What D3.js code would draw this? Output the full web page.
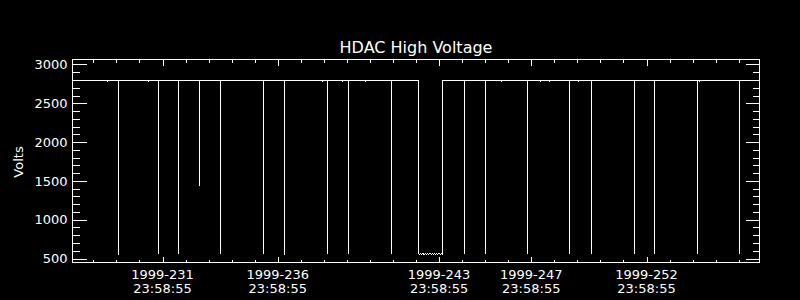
<!DOCTYPE html>
<html>
<head>
<meta charset="utf-8">
<script src="https://cdn.jsdelivr.net/npm/d3@7"></script>
<style>
  body { margin: 0; background: #000; }
  svg { display: block; background: #000; }
  text { fill: #fff; font-family: "DejaVu Sans", sans-serif; }
</style>
</head>
<body>
<svg id="chart" width="800" height="300"></svg>
<script>
// time is day-of-year 1999 (fractional), voltage in volts
const days = [
  228.094, 229.5998, 229.6000, 229.6002, 230.0898, 230.0900, 230.0902,
  231.3788, 231.3790, 231.3792, 231.8038, 231.8040, 231.8042,
  232.7068, 232.7070, 232.7072, 233.6128, 233.6130, 233.6132,
  234.5288, 234.5290, 234.5292, 236.3938, 236.3940, 236.3942,
  237.3058, 237.3060, 237.3062, 238.9538, 238.9540, 238.9542,
  239.1368, 239.1370, 239.1372, 239.8218, 239.8220, 239.8222,
  240.0818, 240.0820, 240.0822, 240.8198, 240.8200, 240.8202,
  241.9218, 241.9220, 241.9222,
  243.1068, 243.1070, 243.15, 243.20, 243.25, 243.30, 243.35, 243.40, 243.45, 243.50,
  243.55, 243.60, 243.65, 243.70, 243.75, 243.80, 243.85, 243.90, 243.95, 244.00,
  244.05, 244.10, 244.1608, 244.1610,
  245.0808, 245.0810, 245.0812, 246.0258, 246.0260, 246.0262,
  246.7208, 246.7210, 246.7212, 247.8488, 247.8490, 247.8492,
  248.4128, 248.4130, 248.4132, 248.8028, 248.8030, 248.8032,
  249.6708, 249.6710, 249.6712, 250.0618, 250.0620, 250.0622,
  250.6258, 250.6260, 250.6262, 252.4568, 252.4570, 252.4572,
  253.3588, 253.3590, 253.3592, 255.2248, 255.2250, 255.2252,
  255.3108, 255.3110, 255.3112, 257.0468, 257.0470, 257.0472,
  257.902
];
const volts = [
  2795, 2795, 2770, 2795, 2795, 550, 2795,
  2795, 2770, 2795, 2795, 555, 2795,
  2795, 555, 2795, 2795, 1430, 2795,
  2795, 555, 2795, 2795, 555, 2795,
  2795, 545, 2795, 2795, 2770, 2795,
  2795, 555, 2795, 2795, 2770, 2795,
  2795, 555, 2795, 2795, 2770, 2795,
  2795, 555, 2795,
  2795, 560, 552, 566, 553, 565, 552, 566, 554, 565,
  552, 566, 553, 565, 552, 566, 553, 565, 552, 566,
  553, 565, 558, 2795,
  2795, 555, 2795, 2795, 555, 2795,
  2795, 2770, 2795, 2795, 555, 2795,
  2795, 2770, 2795, 2795, 2770, 2795,
  2795, 555, 2795, 2795, 2770, 2795,
  2795, 555, 2795, 2795, 555, 2795,
  2795, 555, 2795, 2795, 555, 2795,
  2795, 2770, 2795, 2795, 555, 2795,
  2795
];

const tickDays = [231.99925, 236.99925, 243.99925, 247.99925, 252.99925];
const tickDates = ['1999-231', '1999-236', '1999-243', '1999-247', '1999-252'];
const tickTimes = ['23:58:55', '23:58:55', '23:58:55', '23:58:55', '23:58:55'];
const voltTicks = [500, 1000, 1500, 2000, 2500, 3000];

const svg = d3.select('#chart');

let xScale = d3.scaleLinear().domain([228.094, 257.902]).range([72.5, 759.5]);
let yScale = d3.scaleLinear().domain([448.5, 3064.4]).range([262.5, 59.5]);

let minorDays = d3.range(228, 257).map(d => d + 0.99925).filter(d => d >= 228.094 && d <= 257.902);
let minorVolts = d3.range(500, 3001, 100);

function strip (g) {
  g.select('.domain').remove();
  g.selectAll('line').style('stroke', '#fff').style('shape-rendering', 'crispEdges');
  g.selectAll('text').style('fill', '#fff').style('font-family', '"DejaVu Sans", sans-serif').style('font-size', '13px');
}

// left axis, ticks pointing inward
svg.append('g').attr('transform', 'translate(72.5,0)')
  .call(d3.axisLeft(yScale).tickValues(minorVolts).tickSizeInner(-7).tickSizeOuter(0).tickFormat(''))
  .call(strip);
svg.append('g').attr('transform', 'translate(72.5,0)')
  .call(d3.axisLeft(yScale).tickValues(voltTicks).tickSizeInner(-14).tickSizeOuter(0).tickPadding(5).tickFormat(d3.format('d')))
  .call(strip);

// right axis
svg.append('g').attr('transform', 'translate(759.5,0)')
  .call(d3.axisRight(yScale).tickValues(minorVolts).tickSizeInner(-7).tickSizeOuter(0).tickFormat(''))
  .call(strip);
svg.append('g').attr('transform', 'translate(759.5,0)')
  .call(d3.axisRight(yScale).tickValues(voltTicks).tickSizeInner(-14).tickSizeOuter(0).tickFormat(''))
  .call(strip);

// bottom axis
svg.append('g').attr('transform', 'translate(0,262.5)')
  .call(d3.axisBottom(xScale).tickValues(minorDays).tickSizeInner(-3).tickSizeOuter(0).tickFormat(''))
  .call(strip);
svg.append('g').attr('transform', 'translate(0,262.5)')
  .call(d3.axisBottom(xScale).tickValues(tickDays).tickSizeInner(-6).tickSizeOuter(0).tickFormat(''))
  .call(strip);

// top axis
svg.append('g').attr('transform', 'translate(0,59.5)')
  .call(d3.axisTop(xScale).tickValues(minorDays).tickSizeInner(-3).tickSizeOuter(0).tickFormat(''))
  .call(strip);
svg.append('g').attr('transform', 'translate(0,59.5)')
  .call(d3.axisTop(xScale).tickValues(tickDays).tickSizeInner(-6).tickSizeOuter(0).tickFormat(''))
  .call(strip);

// two-line date labels under the major ticks
let labels = svg.append('g').selectAll('text.xlab')
  .data(tickDays).enter().append('text')
  .attr('class', 'xlab')
  .attr('text-anchor', 'middle')
  .style('font-size', '13px');
labels.append('tspan').attr('x', d => xScale(d)).attr('y', 278.5).text((d, i) => tickDates[i]);
labels.append('tspan').attr('x', d => xScale(d)).attr('y', 292.8).text((d, i) => tickTimes[i]);

// frame
svg.append('rect')
  .attr('x', 72.5).attr('y', 59.5)
  .attr('width', 759.5 - 72.5).attr('height', 262.5 - 59.5)
  .style('fill', 'none').style('stroke', '#fff').style('shape-rendering', 'crispEdges');

// data line, snapped to pixel columns so the drops stay straight
let line = d3.line()
  .x((d, i) => Math.floor(xScale(days[i])) + 0.5)
  .y((d, i) => yScale(volts[i]));
svg.append('path')
  .datum(volts)
  .attr('d', line)
  .style('fill', 'none')
  .style('stroke', '#fff')
  .style('stroke-width', 1)
  .style('shape-rendering', 'crispEdges');

svg.append('text')
  .attr('x', 416).attr('y', 53.3)
  .attr('text-anchor', 'middle')
  .style('font-size', '16px')
  .text('HDAC High Voltage');

svg.append('text')
  .attr('transform', 'translate(23,162) rotate(-90)')
  .attr('text-anchor', 'middle')
  .style('font-size', '13px')
  .text('Volts');
</script>
</body>
</html>
